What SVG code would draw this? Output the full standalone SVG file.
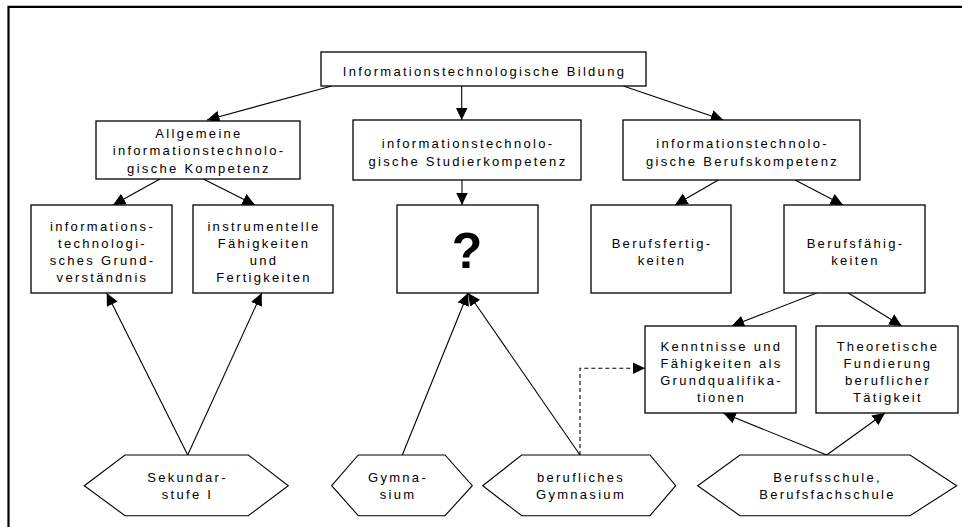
<svg xmlns="http://www.w3.org/2000/svg" width="962" height="527" viewBox="0 0 962 527">
<style>
  .box { fill: #fff; stroke: #000; stroke-width: 1.3; }
  .hex { fill: #fff; stroke: #000; stroke-width: 1.1; }
  .t { font-family: "Liberation Sans", Arial, sans-serif; font-size: 13px; letter-spacing: 2.3px; text-anchor: middle; fill: #000; }
  .q { font-family: "Liberation Sans", Arial, sans-serif; font-size: 50px; font-weight: bold; text-anchor: middle; fill: #000; }
  .c { fill: none; stroke: #000; stroke-width: 1.1; marker-end: url(#ah); }
  .d { fill: none; stroke: #000; stroke-width: 1.1; stroke-dasharray: 4 3; marker-end: url(#ah); }
</style>
<defs>
  <marker id="ah" markerUnits="userSpaceOnUse" markerWidth="13" markerHeight="13" viewBox="0 0 13 13" refX="12.5" refY="6.5" orient="auto">
    <path d="M0,0.5 L12.5,6.5 L0,12.5 Z" fill="#000"/>
  </marker>
</defs>
<rect x="0" y="0" width="962" height="527" fill="#fff"/>
<path d="M8.5,527 V6.8 H962" fill="none" stroke="#000" stroke-width="2.2"/>

<g id="connectors">
  <line class="c" x1="331.7" y1="86" x2="207" y2="120"/>
  <line class="c" x1="461.7" y1="86" x2="461.7" y2="120"/>
  <line class="c" x1="623.3" y1="86" x2="723.3" y2="120"/>
  <line class="c" x1="160" y1="179" x2="113" y2="205"/>
  <line class="c" x1="203.3" y1="179" x2="255" y2="205"/>
  <line class="c" x1="462" y1="180" x2="462" y2="205"/>
  <line class="c" x1="718.3" y1="180" x2="675" y2="205"/>
  <line class="c" x1="795" y1="180" x2="843" y2="205"/>
  <line class="c" x1="816.7" y1="293" x2="731.7" y2="326"/>
  <line class="c" x1="848.3" y1="293" x2="901.7" y2="326"/>
  <line class="c" x1="187.7" y1="455" x2="106.7" y2="293"/>
  <line class="c" x1="187.7" y1="455" x2="261.7" y2="293"/>
  <line class="c" x1="402.3" y1="455" x2="468" y2="293"/>
  <line class="c" x1="580" y1="455" x2="468" y2="293"/>
  <path class="d" d="M580,455 V368.3 H645"/>
  <line class="c" x1="826.7" y1="455" x2="723.3" y2="413"/>
  <line class="c" x1="826.7" y1="455" x2="885" y2="413"/>
</g>

<g id="n-bildung">
  <rect class="box" x="321" y="52" width="325" height="34"/>
  <text class="t" x="484.5" y="75.5">Informationstechnologische Bildung</text>
</g>
<g id="n-allgemein">
  <rect class="box" x="96" y="121" width="204" height="58"/>
  <text class="t" x="199" y="138">Allgemeine</text>
  <text class="t" x="199" y="155.3">informationstechnolo-</text>
  <text class="t" x="199" y="172.6">gische Kompetenz</text>
</g>
<g id="n-studier">
  <rect class="box" x="353" y="120" width="228" height="60"/>
  <text class="t" x="468" y="147.5">informationstechnolo-</text>
  <text class="t" x="468" y="165.5">gische Studierkompetenz</text>
</g>
<g id="n-beruf">
  <rect class="box" x="623" y="120" width="237" height="60"/>
  <text class="t" x="742.5" y="147.5">informationstechnolo-</text>
  <text class="t" x="742.5" y="165.5">gische Berufskompetenz</text>
</g>
<g id="n-grund">
  <rect class="box" x="31" y="205" width="141" height="88"/>
  <text class="t" x="102.5" y="230.5">informations-</text>
  <text class="t" x="102.5" y="247.8">technologi-</text>
  <text class="t" x="102.5" y="265.1">sches Grund-</text>
  <text class="t" x="102.5" y="282.4">verständnis</text>
</g>
<g id="n-instr">
  <rect class="box" x="193" y="205" width="140" height="88"/>
  <text class="t" x="264" y="230.5">instrumentelle</text>
  <text class="t" x="264" y="247.8">Fähigkeiten</text>
  <text class="t" x="264" y="265.1">und</text>
  <text class="t" x="264" y="282.4">Fertigkeiten</text>
</g>
<g id="n-frage">
  <rect class="box" x="397" y="205" width="141" height="88"/>
  <text class="q" x="467" y="268.3">?</text>
</g>
<g id="n-fertig">
  <rect class="box" x="591" y="205" width="140" height="88"/>
  <text class="t" x="662" y="248.3">Berufsfertig-</text>
  <text class="t" x="662" y="265">keiten</text>
</g>
<g id="n-faehig">
  <rect class="box" x="784" y="205" width="141" height="88"/>
  <text class="t" x="855.5" y="248.3">Berufsfähig-</text>
  <text class="t" x="855.5" y="265">keiten</text>
</g>
<g id="n-kenntnisse">
  <rect class="box" x="645" y="326" width="151" height="87"/>
  <text class="t" x="721.5" y="350.7">Kenntnisse und</text>
  <text class="t" x="721.5" y="367.7">Fähigkeiten als</text>
  <text class="t" x="721.5" y="384.7">Grundqualifika-</text>
  <text class="t" x="721.5" y="401.7">tionen</text>
</g>
<g id="n-theorie">
  <rect class="box" x="816" y="326" width="142" height="87"/>
  <text class="t" x="888" y="350.7">Theoretische</text>
  <text class="t" x="888" y="367.7">Fundierung</text>
  <text class="t" x="888" y="384.7">beruflicher</text>
  <text class="t" x="888" y="401.7">Tätigkeit</text>
</g>
<g id="n-sek">
  <polygon class="hex" points="84.3,485.7 125,455 248.3,455 288.3,485.7 248.3,515.7 125,515.7"/>
  <text class="t" x="187.5" y="482.3">Sekundar-</text>
  <text class="t" x="187.5" y="499">stufe I</text>
</g>
<g id="n-gym">
  <polygon class="hex" points="331.7,485.7 358.3,455 445,455 472.3,485.7 445,515.7 358.3,515.7"/>
  <text class="t" x="398" y="482.3">Gymna-</text>
  <text class="t" x="398" y="499">sium</text>
</g>
<g id="n-bgym">
  <polygon class="hex" points="482.7,485.7 521.7,455 650,455 675.7,485.7 650,515.7 521.7,515.7"/>
  <text class="t" x="581" y="482.3">berufliches</text>
  <text class="t" x="581" y="499">Gymnasium</text>
</g>
<g id="n-bs">
  <polygon class="hex" points="697.7,485.7 740,455 910,455 956.7,485.7 910,515.7 740,515.7"/>
  <text class="t" x="827.5" y="482.3">Berufsschule,</text>
  <text class="t" x="827.5" y="499">Berufsfachschule</text>
</g>
</svg>
